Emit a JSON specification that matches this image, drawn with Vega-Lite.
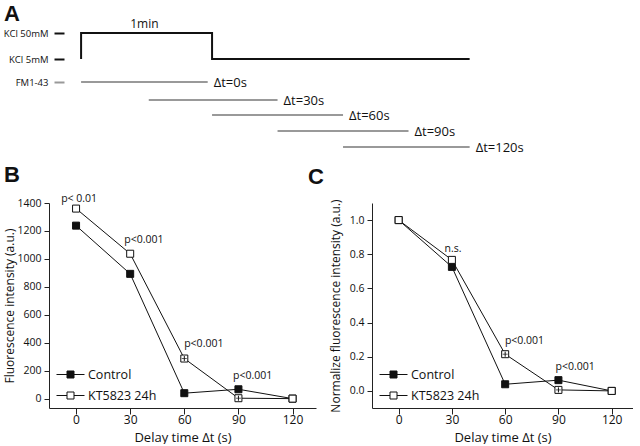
{
  "$schema": "https://vega.github.io/schema/vega-lite/v6.json",
  "padding": {"left": 3, "top": 3, "right": 0, "bottom": 0},
  "background": "white",
  "bounds": "flush",
  "spacing": 50,
  "config": {
    "view": {"stroke": null},
    "font": "Open Sans",
    "axis": {"grid": false, "domainColor": "#222", "tickColor": "#222", "labelColor": "#111", "titleColor": "#111", "labelFont": "Open Sans", "titleFont": "Open Sans", "titleFontWeight": "normal"},
    "title": {"font": "Liberation Sans", "fontWeight": "bold", "fontSize": 22, "color": "#111", "anchor": "start", "frame": "group"}
  },
  "datasets": {
    "steps": [
      {"t": 0, "lvl": 40, "o": 1},
      {"t": 0, "lvl": 14, "o": 2},
      {"t": 60, "lvl": 14, "o": 3},
      {"t": 60, "lvl": 40, "o": 4},
      {"t": 178, "lvl": 40, "o": 5}
    ],
    "dye": [
      {"t": 0, "t2": 58, "lvl": 63, "label": "Δt=0s"},
      {"t": 31, "t2": 90, "lvl": 81, "label": "Δt=30s"},
      {"t": 60, "t2": 120, "lvl": 96, "label": "Δt=60s"},
      {"t": 90, "t2": 150, "lvl": 112, "label": "Δt=90s"},
      {"t": 120, "t2": 178, "lvl": 128, "label": "Δt=120s"}
    ],
    "note": [{"t": 29, "lvl": 5, "label": "1min"}],
    "rawB": [
      {"group": "Control", "t": 0, "v": 1238},
      {"group": "Control", "t": 30, "v": 893},
      {"group": "Control", "t": 60, "v": 39},
      {"group": "Control", "t": 90, "v": 67},
      {"group": "Control", "t": 120, "v": 0},
      {"group": "KT5823 24h", "t": 0, "v": 1360},
      {"group": "KT5823 24h", "t": 30, "v": 1037},
      {"group": "KT5823 24h", "t": 60, "v": 287},
      {"group": "KT5823 24h", "t": 90, "v": 3},
      {"group": "KT5823 24h", "t": 120, "v": 0}
    ],
    "errB": [
      {"t": 60, "v": 287, "lo": 269, "hi": 305},
      {"t": 90, "v": 3, "lo": -15, "hi": 21}
    ],
    "annB": [
      {"t": 1.7, "v": 1429, "label": "p< 0.01"},
      {"t": 37.6, "v": 1134, "label": "p<0.001"},
      {"t": 70.8, "v": 388, "label": "p<0.001"},
      {"t": 97.9, "v": 165, "label": "p<0.001"}
    ],
    "normC": [
      {"group": "Control", "t": 0, "v": 1.0},
      {"group": "Control", "t": 30, "v": 0.726},
      {"group": "Control", "t": 60, "v": 0.039},
      {"group": "Control", "t": 90, "v": 0.063},
      {"group": "Control", "t": 120, "v": 0.0},
      {"group": "KT5823 24h", "t": 0, "v": 1.0},
      {"group": "KT5823 24h", "t": 30, "v": 0.767},
      {"group": "KT5823 24h", "t": 60, "v": 0.215},
      {"group": "KT5823 24h", "t": 90, "v": 0.006},
      {"group": "KT5823 24h", "t": 120, "v": 0.0}
    ],
    "errC": [
      {"t": 60, "v": 0.215, "lo": 0.2, "hi": 0.23},
      {"t": 90, "v": 0.006, "lo": -0.009, "hi": 0.021}
    ],
    "annC": [
      {"t": 30.6, "v": 0.83, "label": "n.s."},
      {"t": 70.9, "v": 0.293, "label": "p<0.001"},
      {"t": 99.4, "v": 0.141, "label": "p<0.001"}
    ]
  },
  "vconcat": [
    {
      "title": {"text": "A", "dx": -45, "offset": -8},
      "width": 425,
      "height": 134,
      "encoding": {
        "x": {"field": "t", "type": "quantitative", "scale": {"domain": [-14.7, 180], "nice": false, "zero": false}, "axis": null},
        "y": {"field": "lvl", "type": "quantitative", "scale": {"domain": [0, 134], "reverse": true, "nice": false, "zero": false},
          "axis": {"title": null, "values": [14, 40, 63], "labelExpr": "datum.value == 14 ? 'KCl 50mM' : (datum.value == 40 ? 'KCl 5mM' : 'FM1-43')", "domain": false, "tickSize": 10, "tickWidth": 2, "tickColor": {"condition": {"test": "datum.value == 63", "value": "#999999"}, "value": "#111111"}, "labelPadding": 6, "offset": -15, "labelFontSize": 9.5}}
      },
      "layer": [
        {
          "data": {"name": "steps"},
          "mark": {"type": "line", "color": "#111", "strokeWidth": 2, "strokeJoin": "miter"},
          "encoding": {"order": {"field": "o", "type": "quantitative"}}
        },
        {
          "data": {"name": "dye"},
          "mark": {"type": "rule", "color": "#999999", "strokeWidth": 2},
          "encoding": {"x2": {"field": "t2"}}
        },
        {
          "data": {"name": "dye"},
          "mark": {"type": "text", "align": "left", "baseline": "middle", "dx": 6, "dy": 1, "fontSize": 13, "color": "#111"},
          "encoding": {"x": {"field": "t2", "type": "quantitative"}, "text": {"field": "label"}}
        },
        {
          "data": {"name": "note"},
          "mark": {"type": "text", "align": "center", "baseline": "middle", "fontSize": 12, "color": "#111"},
          "encoding": {"text": {"field": "label"}}
        }
      ]
    },
    {
      "hconcat": [
        {
          "title": {"text": "B", "dx": -45, "offset": 7},
          "width": 267,
          "height": 205,
          "encoding": {
            "x": {"field": "t", "type": "quantitative", "scale": {"domain": [-15, 133], "nice": false, "zero": false},
              "axis": {"values": [0, 30, 60, 90, 120], "title": "Delay time Δt (s)", "tickSize": 6, "labelPadding": 0, "labelFontSize": 12, "titleFontSize": 13, "titlePadding": 6}},
            "y": {"field": "v", "type": "quantitative", "scale": {"domain": [-67, 1400], "nice": false, "zero": false},
              "axis": {"values": [0, 200, 400, 600, 800, 1000, 1200, 1400], "format": "d", "title": "Fluorescence intensity (a.u.)", "tickSize": 5, "labelPadding": 3, "labelFontSize": 10.5, "titleFontSize": 12, "titlePadding": 0}}
          },
          "layer": [
            {
              "data": {"name": "rawB"},
              "mark": {"type": "line", "color": "#111", "strokeWidth": 1},
              "encoding": {"detail": {"field": "group"}}
            },
            {
              "data": {"name": "rawB"},
              "mark": {"type": "point", "shape": "square", "size": 49, "filled": true, "stroke": "#111", "strokeWidth": 1, "opacity": 1},
              "encoding": {
                "fill": {"field": "group", "type": "nominal", "scale": {"domain": ["Control", "KT5823 24h"], "range": ["#111111", "#ffffff"]},
                  "legend": {"title": null, "orient": "none", "legendX": 7, "legendY": 157, "rowPadding": -10, "symbolType": "M-1,0H-0.25M0.25,0H1M-0.25,-0.25H0.25V0.25H-0.25Z", "symbolSize": 784, "symbolStrokeColor": "#111", "symbolStrokeWidth": 1, "labelFontSize": 12.5, "labelOffset": 3, "labelColor": "#111", "labelFont": "Open Sans"}}
              }
            },
            {
              "data": {"name": "errB"},
              "mark": {"type": "rule", "color": "#111", "strokeWidth": 1},
              "encoding": {"y": {"field": "lo", "type": "quantitative"}, "y2": {"field": "hi"}}
            },
            {
              "data": {"name": "errB"},
              "mark": {"type": "tick", "orient": "horizontal", "color": "#111", "size": 5, "thickness": 1},
              "encoding": {}
            },
            {
              "data": {"name": "annB"},
              "mark": {"type": "text", "align": "center", "baseline": "middle", "fontSize": 10.5, "color": "#111"},
              "encoding": {"text": {"field": "label"}}
            }
          ]
        },
        {
          "title": {"text": "C", "dx": -64, "offset": 10},
          "width": 261,
          "height": 205,
          "encoding": {
            "x": {"field": "t", "type": "quantitative", "scale": {"domain": [-15, 132], "nice": false, "zero": false},
              "axis": {"values": [0, 30, 60, 90, 120], "title": "Delay time Δt (s)", "tickSize": 6, "labelPadding": 0, "labelFontSize": 12, "titleFontSize": 13, "titlePadding": 6}},
            "y": {"field": "v", "type": "quantitative", "scale": {"domain": [-0.1, 1.1], "nice": false, "zero": false},
              "axis": {"values": [0, 0.2, 0.4, 0.6, 0.8, 1.0], "format": ".1f", "title": "Normalize fluorescence intensity (a.u.)", "tickSize": 5, "labelPadding": 3, "labelFontSize": 10.5, "titleFontSize": 12, "titlePadding": 7}}
          },
          "layer": [
            {
              "data": {"name": "normC"},
              "mark": {"type": "line", "color": "#111", "strokeWidth": 1},
              "encoding": {"detail": {"field": "group"}}
            },
            {
              "data": {"name": "normC"},
              "mark": {"type": "point", "shape": "square", "size": 49, "filled": true, "stroke": "#111", "strokeWidth": 1, "opacity": 1},
              "encoding": {
                "fill": {"field": "group", "type": "nominal", "scale": {"domain": ["Control", "KT5823 24h"], "range": ["#111111", "#ffffff"]},
                  "legend": {"title": null, "orient": "none", "legendX": 7, "legendY": 157, "rowPadding": -10, "symbolType": "M-1,0H-0.25M0.25,0H1M-0.25,-0.25H0.25V0.25H-0.25Z", "symbolSize": 784, "symbolStrokeColor": "#111", "symbolStrokeWidth": 1, "labelFontSize": 12.5, "labelOffset": 3, "labelColor": "#111", "labelFont": "Open Sans"}}
              }
            },
            {
              "data": {"name": "errC"},
              "mark": {"type": "rule", "color": "#111", "strokeWidth": 1},
              "encoding": {"y": {"field": "lo", "type": "quantitative"}, "y2": {"field": "hi"}}
            },
            {
              "data": {"name": "errC"},
              "mark": {"type": "tick", "orient": "horizontal", "color": "#111", "size": 5, "thickness": 1},
              "encoding": {}
            },
            {
              "data": {"name": "annC"},
              "mark": {"type": "text", "align": "center", "baseline": "middle", "fontSize": 10.5, "color": "#111"},
              "encoding": {"text": {"field": "label"}}
            }
          ]
        }
      ],
      "spacing": 56,
      "bounds": "flush",
      "resolve": {"scale": {"fill": "independent"}, "legend": {"fill": "independent"}}
    }
  ]
}
